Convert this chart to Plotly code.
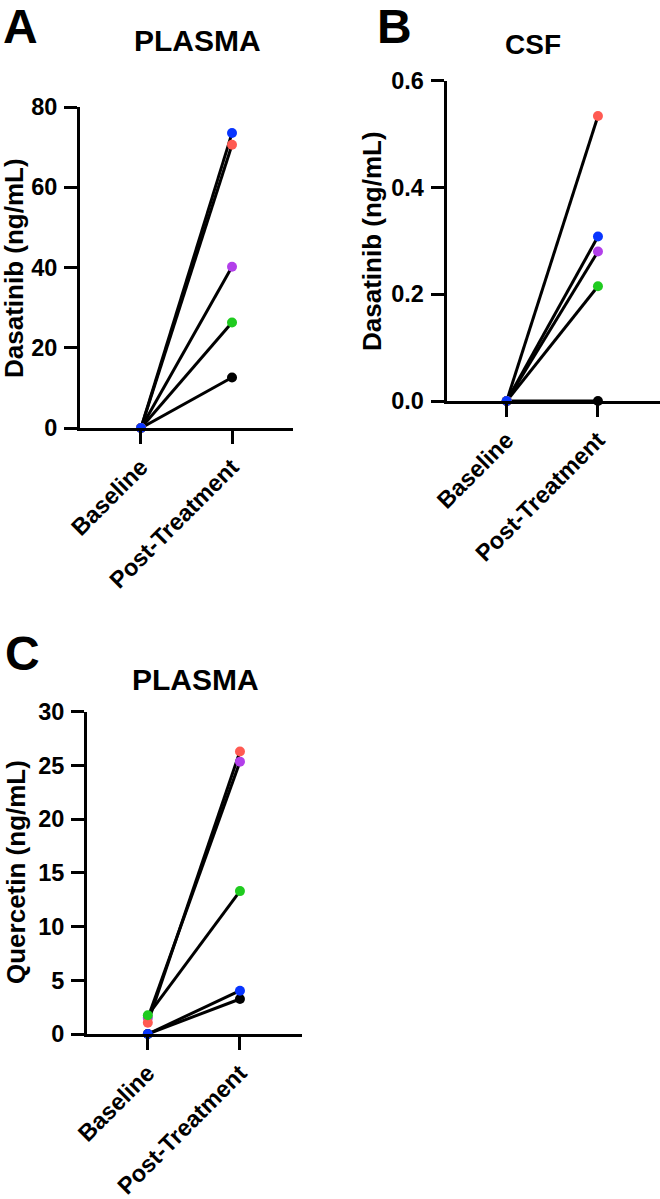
import plotly.graph_objects as go

W, H = 660, 1199

# ---- data ----
subjects = ["S1", "S2", "S3", "S4", "S5"]
subject_colors = ["#000000", "#B23FEA", "#1FCB1F", "#FF5A52", "#0835FF"]
categories = ["Baseline", "Post-Treatment"]

dasatinib_plasma_baseline = [0, 0, 0, 0, 0]
dasatinib_plasma_post = [12.6, 40.2, 26.3, 70.6, 73.5]

dasatinib_csf_baseline = [0, 0, 0, 0, 0]
dasatinib_csf_post = [0.0, 0.280, 0.215, 0.534, 0.308]

quercetin_plasma_baseline = [0, 1.5, 1.74, 1.05, 0]
quercetin_plasma_post = [3.26, 25.35, 13.3, 26.3, 4.03]

# drawing order (last on top) for each column of each panel
order_A = (["S1", "S2", "S3", "S4", "S5"], ["S1", "S2", "S3", "S5", "S4"])
order_B = (["S1", "S2", "S3", "S4", "S5"], ["S2", "S3", "S5", "S4", "S1"])
order_C = (["S2", "S4", "S1", "S3", "S5"], ["S1", "S2", "S3", "S5", "S4"])

FONT = "Liberation Sans, Arial, Helvetica, sans-serif"
TICK_SIZE = 23.5

def px_x(p):
    return p / W

def px_y(p):
    return 1 - p / H

panels = [
    dict(base=dasatinib_plasma_baseline, post=dasatinib_plasma_post, order=order_A,
         xdom=(80, 293), ydom=(428, 107), yrange=[0, 80], dtick=20, tickformat="d",
         xrange=[-0.67, 1.67]),
    dict(base=dasatinib_csf_baseline, post=dasatinib_csf_post, order=order_B,
         xdom=(446.5, 660), ydom=(401, 80.7), yrange=[0, 0.6], dtick=0.2, tickformat=".1f",
         xrange=[-0.66, 1.68]),
    dict(base=quercetin_plasma_baseline, post=quercetin_plasma_post, order=order_C,
         xdom=(87, 301.7), ydom=(1034, 711.7), yrange=[0, 30], dtick=5, tickformat="d",
         xrange=[-0.66, 1.67]),
]

fig = go.Figure()
layout = {}
for i, p in enumerate(panels, start=1):
    xa = "x" if i == 1 else f"x{i}"
    ya = "y" if i == 1 else f"y{i}"
    for s, b, v in zip(subjects, p["base"], p["post"]):
        fig.add_trace(go.Scatter(x=[0, 1], y=[b, v], mode="lines",
                                 line=dict(color="black", width=3),
                                 xaxis=xa, yaxis=ya, showlegend=False, hoverinfo="skip"))
    for col, vals in ((0, p["base"]), (1, p["post"])):
        ordr = p["order"][col]
        idx = [subjects.index(s) for s in ordr]
        fig.add_trace(go.Scatter(x=[col] * len(idx), y=[vals[k] for k in idx], mode="markers",
                                 marker=dict(color=[subject_colors[k] for k in idx], size=10,
                                             line=dict(width=0)),
                                 cliponaxis=False, xaxis=xa, yaxis=ya, showlegend=False))
    xk = "xaxis" if i == 1 else f"xaxis{i}"
    yk = "yaxis" if i == 1 else f"yaxis{i}"
    layout[xk] = dict(domain=[max(0, px_x(p["xdom"][0])), min(1, px_x(p["xdom"][1]))],
                      range=p["xrange"],
                      anchor=ya, tickvals=[0, 1], ticktext=categories, tickangle=-45,
                      automargin=False,
                      showline=True, linecolor="black", linewidth=3, ticks="outside",
                      ticklen=13, tickwidth=3, tickcolor="black", showgrid=False, zeroline=False,
                      tickfont=dict(family=FONT, size=TICK_SIZE, color="black", weight="bold"))
    layout[yk] = dict(domain=[px_y(p["ydom"][0]), px_y(p["ydom"][1])], range=p["yrange"],
                      anchor=xa, dtick=p["dtick"], tick0=0, tickformat=p["tickformat"],
                      automargin=False,
                      showline=True, linecolor="black", linewidth=3, ticks="outside",
                      ticklen=13, tickwidth=3, tickcolor="black", showgrid=False, zeroline=False,
                      ticklabelstandoff=2,
                      tickfont=dict(family=FONT, size=TICK_SIZE, color="black", weight="bold"))

annotations = []
def ann(text, x, y, size, angle=0, xanchor="center", yanchor="middle"):
    annotations.append(dict(text=text, x=px_x(x), y=px_y(y), xref="paper", yref="paper",
                            showarrow=False, textangle=angle, xanchor=xanchor, yanchor=yanchor,
                            font=dict(family=FONT, size=size, color="black", weight="bold")))

ann("A", 21, 26, 48)
ann("B", 394, 27, 48)
ann("C", 22, 653, 48)
ann("PLASMA", 197, 41, 30)
ann("CSF", 533, 44, 28)
ann("PLASMA", 195, 679, 30)
ann("Dasatinib (ng/mL)", 14, 268, 26, angle=-90)
ann("Dasatinib (ng/mL)", 372, 241, 26, angle=-90)
ann("Quercetin (ng/mL)", 16, 872, 26, angle=-90)

fig.update_layout(width=W, height=H, margin=dict(l=0, r=0, t=0, b=0, autoexpand=False),
                  paper_bgcolor="white", plot_bgcolor="white",
                  annotations=annotations, **layout)

fig.write_html("out.html", config={"displayModeBar": False},
               post_script="document.body.style.margin='0';document.body.style.padding='0';"
                           "document.body.style.overflow='hidden';")
